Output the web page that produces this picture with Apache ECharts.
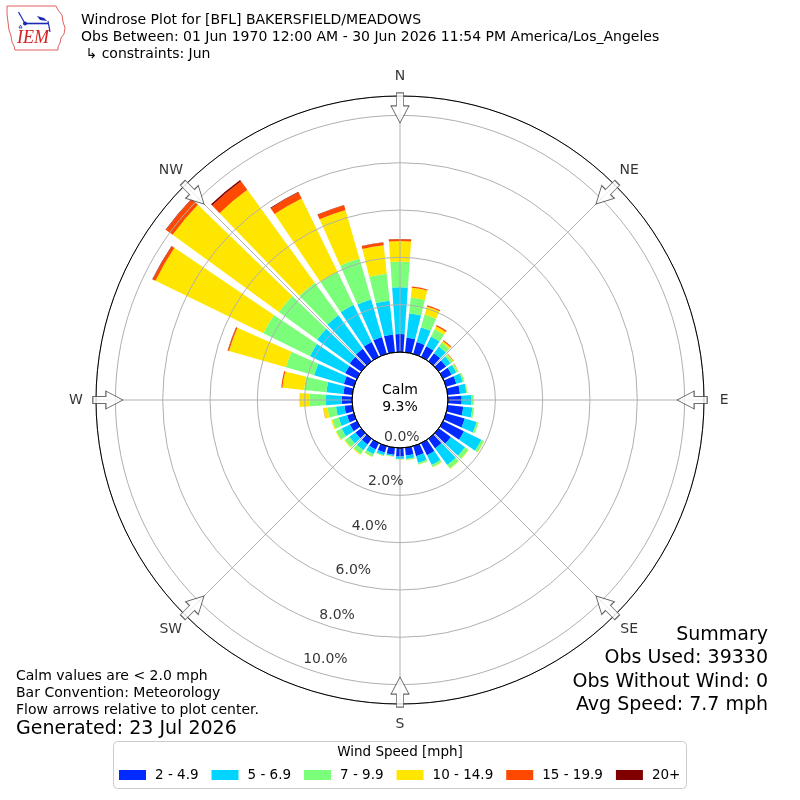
<!DOCTYPE html>
<html><head><meta charset="utf-8">
<script src="https://cdn.jsdelivr.net/npm/echarts@6.0.0/dist/echarts.min.js"></script>
<style>html,body{margin:0;padding:0;background:#fff}#c{width:800px;height:800px}</style>
</head><body><div id="c"></div>
<script>
// ---- data ----
const directions = ['0','10','20','30','40','50','60','70','80','90','100','110','120','130','140','150','160','170',
  '180','190','200','210','220','230','240','250','260','270','280','290','300','310','320','330','340','350'];
const speedBins = ['2 - 4.9','5 - 6.9','7 - 9.9','10 - 14.9','15 - 19.9','20+'];
const binColors = ['#002aff','#00d4ff','#7bff7b','#ffe600','#ff4900','#800000'];
const spd2to5   = [0.76,0.62,0.52,0.50,0.42,0.38,0.40,0.45,0.52,0.58,0.66,0.82,0.98,0.63,0.50,0.57,0.44,0.33,0.36,0.30,0.28,0.30,0.30,0.30,0.33,0.30,0.33,0.44,0.38,0.44,0.55,0.60,0.65,0.70,0.74,0.76];
const spd5to7   = [1.98,1.03,0.65,0.46,0.34,0.24,0.22,0.28,0.27,0.42,0.39,0.52,0.82,0.74,0.87,0.46,0.30,0.15,0.10,0.06,0.12,0.22,0.30,0.32,0.39,0.37,0.36,0.66,0.72,1.31,1.65,1.70,1.75,1.75,1.65,1.43];
const spd7to10  = [1.08,0.68,0.56,0.34,0.21,0.11,0.08,0.07,0.04,0.07,0.07,0.08,0.12,0.18,0.18,0.09,0.07,0.04,0.02,0.02,0.04,0.12,0.20,0.23,0.25,0.28,0.36,0.68,0.95,1.24,2.20,2.00,1.70,1.55,1.80,1.15];
const spd10to15 = [0.87,0.41,0.35,0.14,0.09,0.03,0.02,0.01,0.01,0.03,0.01,0.01,0.02,0.02,0.02,0.02,0.01,0.01,0.01,0.01,0.01,0.02,0.04,0.03,0.03,0.05,0.17,0.42,0.92,2.50,5.07,5.55,4.85,3.45,2.14,1.21];
const spd15to20 = [0.08,0.05,0.06,0.06,0.04,0.02,0.01,0,0,0,0,0,0,0,0,0,0,0,0,0,0,0,0,0,0,0,0.01,0.01,0.05,0.05,0.13,0.35,0.45,0.29,0.20,0.12];
const spd20plus = [0.01,0,0,0,0,0,0,0,0,0,0,0,0,0,0,0,0,0,0,0,0,0,0,0,0,0,0,0,0,0.01,0.02,0.02,0.07,0.03,0.02,0.01];
const radialTicks = [0,2,4,6,8,10];
const compassLabels = ['N','NE','E','SE','S','SW','W','NW'];
const compassAngles = [0,45,90,135,180,225,270,315];
const calmPct = 9.3;
const rMax = 10.82;
const titleLines = ['Windrose Plot for [BFL] BAKERSFIELD/MEADOWS',
  'Obs Between: 01 Jun 1970 12:00 AM - 30 Jun 2026 11:54 PM America/Los_Angeles',
  ' \u21b3 constraints: Jun'];
const noteLines = ['Calm values are < 2.0 mph','Bar Convention: Meteorology','Flow arrows relative to plot center.'];
const generatedText = 'Generated: 23 Jul 2026';
const summaryLines = ['Summary','Obs Used: 39330','Obs Without Wind: 0','Avg Speed: 7.7 mph'];

const binData = [spd2to5, spd5to7, spd7to10, spd10to15, spd15to20, spd20plus];
const FONT = '"DejaVu Sans", Verdana, sans-serif';

const chart = echarts.init(document.getElementById('c'), null, {renderer:'canvas'});

const barSeries = speedBins.map((name, i) => ({
  type:'bar', name, coordinateSystem:'polar', polarIndex:0, stack:'wind',
  data: binData[i], barCategoryGap:'20%', itemStyle:{color: binColors[i]},
  silent:true, z:2
}));

const arrowPath = 'path://M5.5,0L12.5,0L12.5,13L18,13L9,30L0,13L5.5,13Z';

const graphics = [];
titleLines.forEach((t, i) => graphics.push({type:'text', x:81, y:20 + i*17,
  style:{text:t, font:'14px ' + FONT, fill:'#000', textVerticalAlign:'middle', verticalAlign:'middle'}}));
noteLines.forEach((t, i) => graphics.push({type:'text', x:16, y:676 + i*17,
  style:{text:t, font:'14px ' + FONT, fill:'#000', textVerticalAlign:'middle', verticalAlign:'middle'}}));
graphics.push({type:'text', x:16, y:729, style:{text:generatedText, font:'19px ' + FONT, fill:'#000', textVerticalAlign:'middle', verticalAlign:'middle'}});
summaryLines.forEach((t, i) => graphics.push({type:'text', x:768, y:635 + i*23.4,
  style:{text:t, font:'19px ' + FONT, fill:'#000', textAlign:'right', align:'right', textVerticalAlign:'middle', verticalAlign:'middle'}}));
graphics.push({type:'text', x:400, y:398.5, z:20,
  style:{text:'Calm\n' + calmPct.toFixed(1) + '%', font:'14px ' + FONT, lineHeight:17, fill:'#000', textAlign:'center', align:'center', textVerticalAlign:'middle', verticalAlign:'middle'}});
// legend box + title
graphics.push({type:'rect', z:1, shape:{x:113.5, y:741.5, width:573, height:47, r:4}, style:{fill:'#fff', stroke:'#cccccc', lineWidth:1}});
graphics.push({type:'text', x:400, y:752.5, z:2, style:{text:'Wind Speed [mph]', font:'13.5px ' + FONT, fill:'#000', textAlign:'center', align:'center', textVerticalAlign:'middle', verticalAlign:'middle'}});
// IEM logo
graphics.push({type:'polyline', shape:{points:[[7,6],[56,6],[58,10],[62,15],[63,22],[65,28],[64,34],[61,38],[60,43],[58,47],[58,50],[15,50],[14,46],[12,42],[11,36],[9,30],[8,22],[7,14],[7,6]]}, style:{stroke:'#e06060', fill:null, lineWidth:1}});
graphics.push({type:'line', shape:{x1:25, y1:23.5, x2:48, y2:23.5}, style:{stroke:'#1a2bb0', lineWidth:1.6}});
graphics.push({type:'line', shape:{x1:18.5, y1:12, x2:25, y2:23.5}, style:{stroke:'#1a2bb0', lineWidth:1.2}});
graphics.push({type:'circle', shape:{cx:25, cy:23.5, r:2}, style:{fill:'#1a2bb0'}});
graphics.push({type:'polygon', shape:{points:[[37,16],[44,18],[47,21],[40,20]]}, style:{fill:'#1a2bb0'}});
graphics.push({type:'line', shape:{x1:48, y1:21, x2:50, y2:32}, style:{stroke:'#1a2bb0', lineWidth:1.2}});
graphics.push({type:'polygon', shape:{points:[[19,28],[22,28],[20.5,25]]}, style:{fill:null, stroke:'#1a2bb0', lineWidth:0.8}});
graphics.push({type:'text', x:33, y:38, style:{text:'IEM', font:'italic 18px "Liberation Serif", "DejaVu Serif", serif', fill:'#d62020', textAlign:'center', align:'center', textVerticalAlign:'middle', verticalAlign:'middle'}});

const option = {
  animation:false,
  backgroundColor:'#fff',
  polar:[
    {center:[400,400], radius:[48,304]},
    {center:[400,400], radius:[48,304]},
    {center:[400,400], radius:[0,48]}
  ],
  angleAxis:[
    {polarIndex:0, type:'category', data:directions, startAngle:95, clockwise:true, boundaryGap:true,
     axisLine:{show:false}, axisTick:{show:false}, axisLabel:{show:false}, splitLine:{show:false}},
    {polarIndex:1, type:'value', min:0, max:360, interval:45, startAngle:90, clockwise:true, z:6,
     axisLine:{show:true, lineStyle:{color:'#000', width:1}}, axisTick:{show:false}, axisLabel:{show:false},
     splitLine:{show:true, lineStyle:{color:'#b0b0b0', width:1}}},
    {polarIndex:2, type:'value', min:0, max:360, startAngle:90, z:7,
     axisLine:{show:true, lineStyle:{color:'#000', width:1}}, axisTick:{show:false}, axisLabel:{show:false}, splitLine:{show:false}}
  ],
  radiusAxis:[
    {polarIndex:0, type:'value', min:0, max:rMax, show:false},
    {polarIndex:1, type:'value', min:0, max:rMax, interval:2, z:5,
     axisLine:{show:false}, axisTick:{show:false}, axisLabel:{show:false},
     splitLine:{show:true, lineStyle:{color:'#b0b0b0', width:1}}},
    {polarIndex:2, type:'value', min:0, max:1, show:false}
  ],
  legend:{data:speedBins, left:119, top:768, padding:0, itemWidth:27, itemHeight:10, itemGap:13, icon:'rect',
    selectedMode:false, textStyle:{fontSize:13.5, fontFamily:FONT, color:'#000', padding:[0,0,0,4]}},
  series:[
    ...barSeries,
    {type:'scatter', coordinateSystem:'polar', polarIndex:1, clip:false, silent:true, z:10,
     symbolSize:1, itemStyle:{color:'rgba(0,0,0,0)'},
     data: radialTicks.map(t => [t, 200]),
     label:{show:true, position:'right', distance:0, offset:[0,-8], fontSize:14, fontFamily:FONT, color:'#000',
       formatter: p => p.value[0].toFixed(1) + '%'}},
    {type:'scatter', coordinateSystem:'polar', polarIndex:1, clip:false, silent:true, z:10,
     symbolSize:1, itemStyle:{color:'rgba(0,0,0,0)'},
     data: compassAngles.map((a, i) => ({name:compassLabels[i], value:[11.67, a]})),
     label:{show:true, position:'inside', fontSize:14, fontFamily:FONT, color:'#000', formatter:'{b}'}},
    {type:'scatter', coordinateSystem:'polar', polarIndex:1, clip:false, silent:true, z:11,
     symbol:arrowPath, symbolSize:[18,30],
     itemStyle:{color:'#ffffff', borderColor:'#444', borderWidth:1},
     data: compassAngles.map(a => ({value:[10.32, a], symbolRotate:-a}))}
  ],
  graphic:graphics
};
chart.setOption(option);
</script>
</body></html>
